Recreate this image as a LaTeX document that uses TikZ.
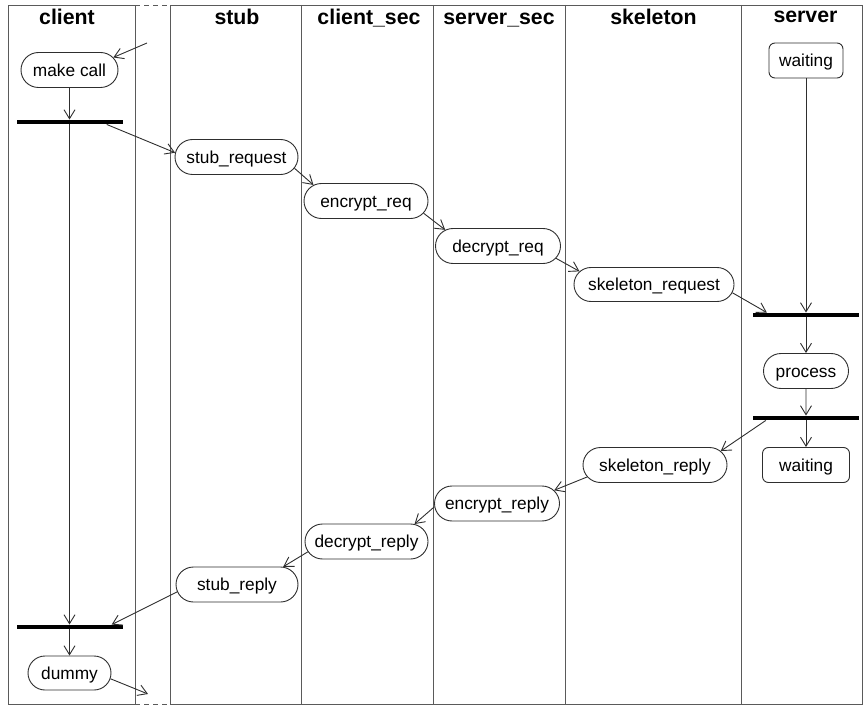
\documentclass[tikz,border=0pt]{standalone}
\usepackage{fontspec}
\setmainfont{Liberation Sans}
\usetikzlibrary{shapes.misc,arrows.meta}

\definecolor{lane}{HTML}{5A5A5A}
\definecolor{flow}{HTML}{2E2E2E}

\tikzset{
  lanebox/.style={draw=lane, line width=0.9pt},
  lanedash/.style={draw=lane, line width=0.9pt, dash pattern=on 5pt off 4pt},
  hdr/.style={anchor=base, inner sep=0pt, font=\fontsize{21.3}{24}\selectfont\bfseries},
  act/.style={rounded rectangle, draw=flow, line width=0.9pt, inner sep=0pt,
    minimum height=35pt, text height=12.4pt, text depth=0pt,
    font=\fontsize{17.3}{20}\selectfont},
  statebox/.style={rectangle, rounded corners=6pt, draw=flow, line width=0.9pt,
    inner sep=0pt, minimum height=35pt, text height=12.4pt, text depth=0pt,
    font=\fontsize{17.3}{20}\selectfont},
  syncbar/.style={rectangle, fill=black, draw=none, inner sep=0pt,
    minimum width=106pt, minimum height=4.5pt},
  flowarrow/.style={draw=flow, line width=0.9pt,
    -{Straight Barb[length=9pt,width=11pt,line width=0.9pt]}},
}

\begin{document}
\begin{tikzpicture}[x=1pt,y=-1pt]
\useasboundingbox (0,0) rectangle (863,706);

% swimlanes
\draw[lanebox] (135,5) -- (8,5) -- (8,704) -- (135,704) -- cycle;
\draw[lanedash] (135,5) -- (170,5);
\draw[lanedash] (135,704) -- (170,704);
\draw[lanebox] (170,5) -- (862,5) -- (862,704) -- (170,704) -- cycle;
\foreach \x in {301,433,565,741} \draw[lanebox] (\x,5) -- (\x,704);

% lane titles
\node[hdr] (hclient) at (67,25) {client};
\node[hdr] (hstub) at (237,25) {stub};
\node[hdr] (hcsec) at (369,25) {client\_sec};
\node[hdr] (hssec) at (499,25) {server\_sec};
\node[hdr] (hskel) at (653.5,25) {skeleton};
\node[hdr] (hserver) at (805.5,23) {server};

% activities
\node[act, minimum width=97pt] (mc) at (69.5,70) {make call};
\node[syncbar] (b1) at (69.5,122) {};
\node[act, minimum width=123pt] (sr) at (236.5,157) {stub\_request};
\node[act, minimum width=124pt] (eq) at (366,201) {encrypt\_req};
\node[act, minimum width=125pt] (dq) at (498,246) {decrypt\_req};
\node[act, minimum width=160pt, minimum height=34pt] (skq) at (654,284.5) {skeleton\_request};
\node[statebox, minimum width=74pt] (w1) at (806,60.5) {waiting};
\node[syncbar] (b2) at (806,315) {};
\node[act, minimum width=85pt] (pr) at (806,371) {process};
\node[syncbar] (b3) at (806,418) {};
\node[statebox, minimum width=87pt] (w2) at (806,465) {waiting};
\node[act, minimum width=144pt] (skr) at (655,465) {skeleton\_reply};
\node[act, minimum width=125pt] (erp) at (497,503.5) {encrypt\_reply};
\node[act, minimum width=123pt] (drp) at (366.5,541.5) {decrypt\_reply};
\node[act, minimum width=122pt] (srp) at (237,584.5) {stub\_reply};
\node[syncbar] (b4) at (69.5,627) {};
\node[act, minimum width=83pt, minimum height=34pt] (dm) at (69.5,673) {dummy};

% entry and exit points
\coordinate (cin) at (147,43);
\coordinate (cout) at (148,694);

% flow
\draw[flowarrow] (cin) -- (mc.16);
\draw[flowarrow] (mc) -- (b1);
\draw[flowarrow] (b1) -- (b4);
\draw[flowarrow] ([xshift=-16pt]b1.south east) -- (sr.176);
\draw[flowarrow] (sr.-11) -- (eq.163);
\draw[flowarrow] (eq.-12) -- (dq.163);
\draw[flowarrow] (dq.-12) -- (skq.170);
\draw[flowarrow] (skq.-6) -- ([xshift=14pt]b2.north west);
\draw[flowarrow] (w1) -- (b2);
\draw[flowarrow] (b2) -- (pr);
\draw[flowarrow] (pr) -- (b3);
\draw[flowarrow] (b3) -- (w2);
\draw[flowarrow] ([xshift=13pt]b3.south west) -- (skr.12);
\draw[flowarrow] (skr.190) -- (erp.13);
\draw[flowarrow] (erp.183) -- (drp.20);
\draw[flowarrow] (drp.190) -- (srp.21);
\draw[flowarrow] (srp.187) -- ([xshift=-11pt]b4.north east);
\draw[flowarrow] (b4) -- (dm);
\draw[flowarrow] (dm.-8) -- (cout);
\end{tikzpicture}
\end{document}
